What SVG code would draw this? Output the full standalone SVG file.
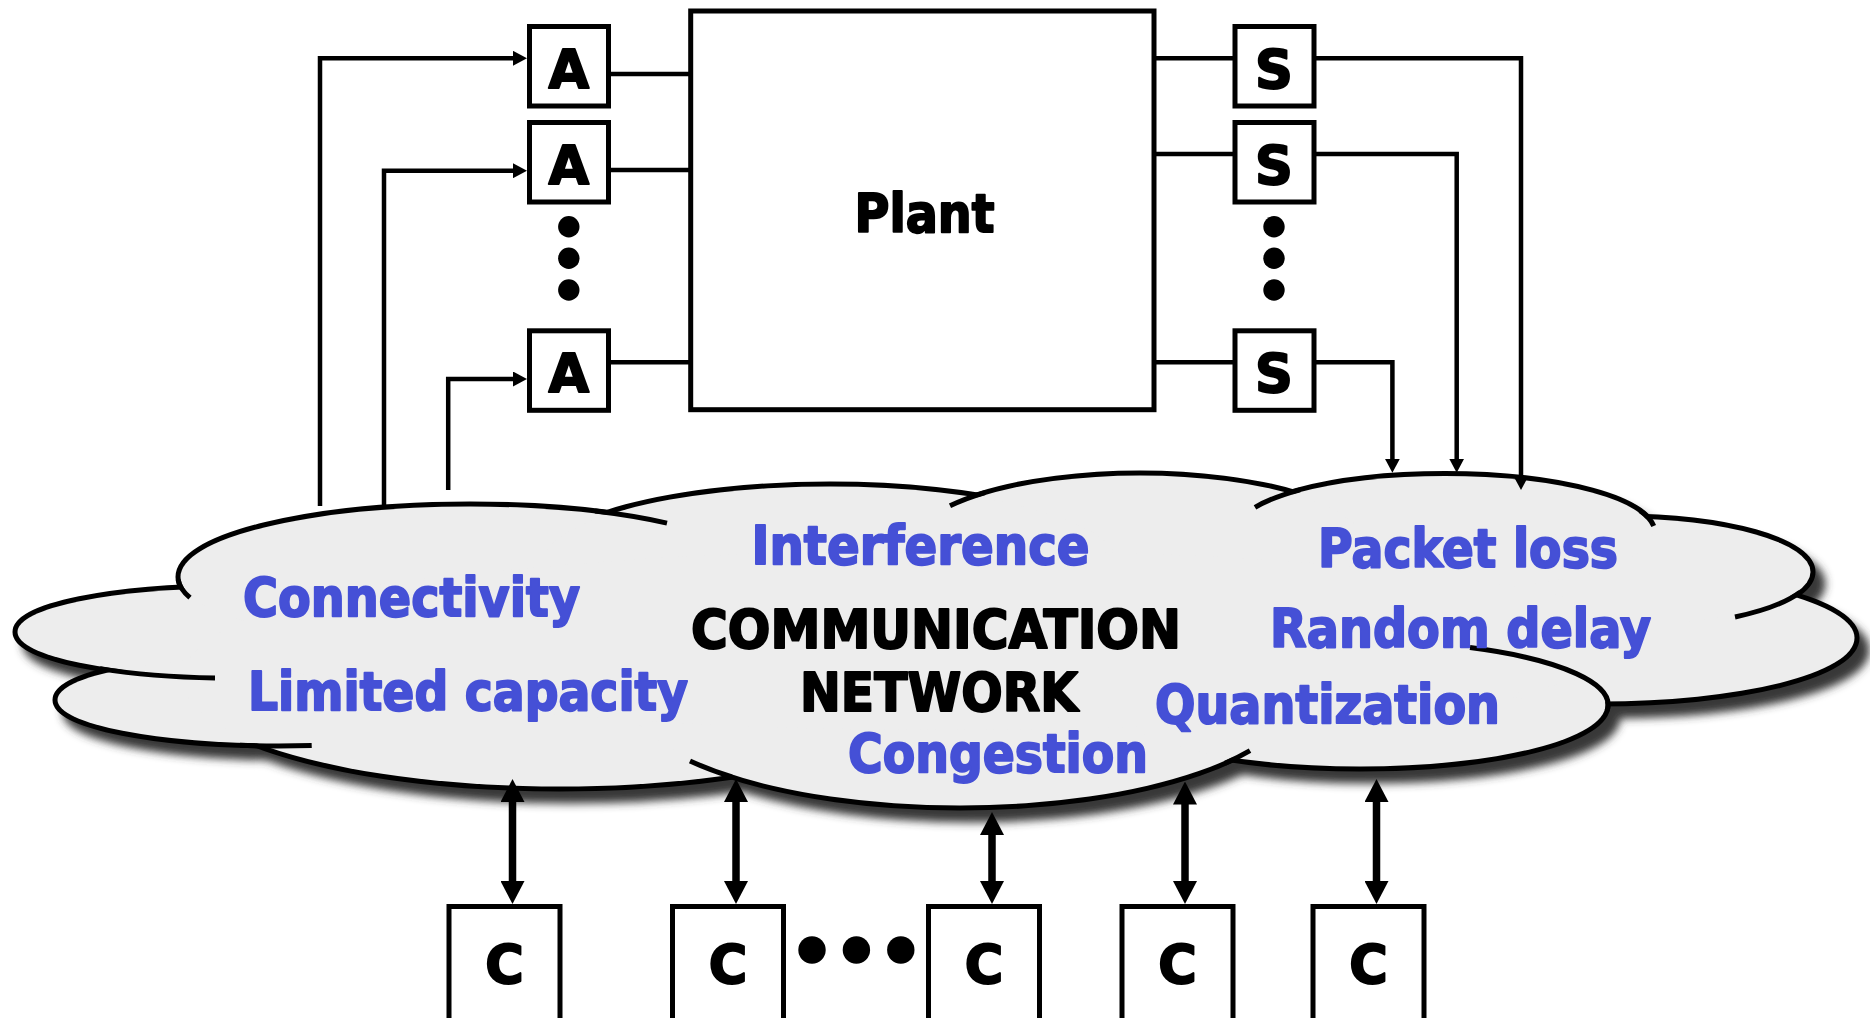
<svg xmlns="http://www.w3.org/2000/svg" width="1870" height="1018" viewBox="0 0 1870 1018">
  <style>
    .box { fill: #fff; stroke: #000; stroke-width: 5; }
    .lbl { font-family: "DejaVu Sans", "Liberation Sans", sans-serif; font-weight: bold; font-size: 52.5px; fill: #000; stroke: #000; stroke-width: 2; stroke-linejoin: round; }
    .mid { text-anchor: middle; }
    .issue { fill: #4550d6; stroke: #4550d6; }
    .wire { fill: none; stroke: #000; stroke-width: 4.5; }
    .wire-in { marker-end: url(#tip); }
    .duplex { fill: none; stroke: #000; stroke-width: 7.5; marker-start: url(#tip-bold); marker-end: url(#tip-bold); }
    .hook { fill: none; stroke: #000; stroke-width: 5; }
    .dot { fill: #000; }
  </style>
  <defs>
    <marker id="tip" markerUnits="userSpaceOnUse" markerWidth="14" markerHeight="15" refX="8" refY="7.5" orient="auto">
      <path d="M0,0 L14,7.5 L0,15 z" fill="#000"/>
    </marker>
    <marker id="tip-bold" markerUnits="userSpaceOnUse" markerWidth="23" markerHeight="24" refX="13" refY="12" orient="auto-start-reverse">
      <path d="M0,0 L23,12 L0,24 z" fill="#000"/>
    </marker>
    <filter id="soft" x="-10%" y="-30%" width="120%" height="160%">
      <feGaussianBlur stdDeviation="4"/>
    </filter>
    <!-- cloud lobes, radii pulled in by half the outline width -->
    <g id="lobes">
      <ellipse cx="230" cy="632" rx="212.5" ry="43.5"/>
      <ellipse cx="470" cy="577" rx="289.5" ry="70.5"/>
      <ellipse cx="280" cy="700" rx="222.5" ry="43.5"/>
      <ellipse cx="560" cy="679" rx="377.5" ry="107.5"/>
      <ellipse cx="960" cy="688" rx="337.5" ry="117.5"/>
      <ellipse cx="1360" cy="705" rx="245.5" ry="61.5"/>
      <ellipse cx="1600" cy="638" rx="254.5" ry="63.5"/>
      <ellipse cx="1620" cy="572" rx="190.5" ry="53.5"/>
      <ellipse cx="1445" cy="532.5" rx="207.5" ry="56.5"/>
      <ellipse cx="1140" cy="548" rx="227.5" ry="72.5"/>
      <ellipse cx="830" cy="564" rx="287.5" ry="77.5"/>
    </g>
  </defs>

  <!-- communication network cloud -->
  <g id="network">
    <use href="#lobes" fill="#383838" stroke="#383838" stroke-width="10" transform="translate(10,12)" filter="url(#soft)"/>
    <use href="#lobes" fill="none" stroke="#000" stroke-width="10"/>
    <use href="#lobes" fill="#ededed" stroke="none"/>
    <ellipse cx="950" cy="640" rx="700" ry="90" fill="#ededed"/>
    <path class="hook" d="M178.2,579.5 A292,73 0 0 0 190,597.7"/>
    <path class="hook" d="M100,668.6 A215,46 0 0 0 215,677.9"/>
    <path class="hook" d="M240,745.3 A225,46 0 0 0 311.7,745.5"/>
    <path class="hook" d="M690,761 A340,120 0 0 0 732,777"/>
    <path class="hook" d="M1225,763.2 A340,120 0 0 0 1250,750.6"/>
    <path class="hook" d="M1470,647.6 A248,64 0 0 1 1607.1,710.6"/>
    <path class="hook" d="M1800,592.2 A193,56 0 0 1 1735,617"/>
    <path class="hook" d="M1640,510.6 A210,59 0 0 1 1653.7,526"/>
    <path class="hook" d="M1255,507.4 A210,59 0 0 1 1300,489.8"/>
    <path class="hook" d="M950,505.8 A230,75 0 0 1 985,492.6"/>
    <path class="hook" d="M595,511 A292,73 0 0 1 667,523.1"/>

    <text class="lbl" x="691" y="648" textLength="490" lengthAdjust="spacingAndGlyphs">COMMUNICATION</text>
    <text class="lbl" x="800" y="711" textLength="278" lengthAdjust="spacingAndGlyphs">NETWORK</text>

    <text class="lbl issue" x="243" y="616" textLength="337" lengthAdjust="spacingAndGlyphs">Connectivity</text>
    <text class="lbl issue" x="248" y="710" textLength="440" lengthAdjust="spacingAndGlyphs">Limited capacity</text>
    <text class="lbl issue" x="751.5" y="564" textLength="338" lengthAdjust="spacingAndGlyphs">Interference</text>
    <text class="lbl issue" x="848" y="772" textLength="300" lengthAdjust="spacingAndGlyphs">Congestion</text>
    <text class="lbl issue" x="1318" y="567" textLength="300" lengthAdjust="spacingAndGlyphs">Packet loss</text>
    <text class="lbl issue" x="1270" y="647" textLength="381" lengthAdjust="spacingAndGlyphs">Random delay</text>
    <text class="lbl issue" x="1155" y="723" textLength="345" lengthAdjust="spacingAndGlyphs">Quantization</text>
  </g>

  <!-- plant -->
  <g id="plant">
    <rect class="box" x="690.7" y="11" width="463.3" height="398.7"/>
    <text class="lbl" x="854.5" y="232" textLength="140" lengthAdjust="spacingAndGlyphs">Plant</text>
  </g>

  <!-- actuators -->
  <g id="actuator-1">
    <rect class="box" x="529.5" y="26.5" width="79" height="79.5"/>
    <text class="lbl mid" x="568.8" y="87.7">A</text>
  </g>
  <g id="actuator-2">
    <rect class="box" x="529.5" y="122.5" width="79" height="79.5"/>
    <text class="lbl mid" x="568.8" y="183.7">A</text>
  </g>
  <g id="actuator-dots">
    <circle class="dot" cx="568.8" cy="226.7" r="10.7"/>
    <circle class="dot" cx="568.8" cy="258.3" r="10.7"/>
    <circle class="dot" cx="568.8" cy="290" r="10.7"/>
  </g>
  <g id="actuator-n">
    <rect class="box" x="529.5" y="330.8" width="79" height="79.5"/>
    <text class="lbl mid" x="568.8" y="391.8">A</text>
  </g>

  <!-- sensors -->
  <g id="sensor-1">
    <rect class="box" x="1235" y="26.5" width="79" height="79.5"/>
    <text class="lbl mid" x="1274" y="87.7">S</text>
  </g>
  <g id="sensor-2">
    <rect class="box" x="1235" y="122.5" width="79" height="79.5"/>
    <text class="lbl mid" x="1274" y="183.7">S</text>
  </g>
  <g id="sensor-dots">
    <circle class="dot" cx="1274" cy="226.7" r="10.7"/>
    <circle class="dot" cx="1274" cy="258.3" r="10.7"/>
    <circle class="dot" cx="1274" cy="290" r="10.7"/>
  </g>
  <g id="sensor-n">
    <rect class="box" x="1235" y="330.8" width="79" height="79.5"/>
    <text class="lbl mid" x="1274" y="391.8">S</text>
  </g>

  <!-- controllers -->
  <g id="controller-1">
    <rect class="box" x="449" y="906.5" width="111" height="130"/>
    <text class="lbl mid" x="504.5" y="983">C</text>
  </g>
  <g id="controller-2">
    <rect class="box" x="672.5" y="906.5" width="111" height="130"/>
    <text class="lbl mid" x="728" y="983">C</text>
  </g>
  <g id="controller-dots">
    <circle class="dot" cx="812" cy="950" r="13.7"/>
    <circle class="dot" cx="856.4" cy="950" r="13.7"/>
    <circle class="dot" cx="900.8" cy="950" r="13.7"/>
  </g>
  <g id="controller-3">
    <rect class="box" x="928.5" y="906.5" width="111" height="130"/>
    <text class="lbl mid" x="984" y="983">C</text>
  </g>
  <g id="controller-4">
    <rect class="box" x="1122" y="906.5" width="111" height="130"/>
    <text class="lbl mid" x="1177.5" y="983">C</text>
  </g>
  <g id="controller-5">
    <rect class="box" x="1313" y="906.5" width="111" height="130"/>
    <text class="lbl mid" x="1368.5" y="983">C</text>
  </g>

  <!-- connectors -->
  <g id="connectors">
    <!-- network to actuators -->
    <path class="wire wire-in" d="M320,506 V58.3 H521"/>
    <path class="wire wire-in" d="M384,506 V170.7 H521"/>
    <path class="wire wire-in" d="M448.2,490 V379 H521"/>
    <!-- actuators to plant -->
    <path class="wire" d="M610,74 H690"/>
    <path class="wire" d="M610,170 H690"/>
    <path class="wire" d="M610,362.3 H690"/>
    <!-- plant to sensors -->
    <path class="wire" d="M1155,58.3 H1235"/>
    <path class="wire" d="M1155,154 H1235"/>
    <path class="wire" d="M1155,362.3 H1235"/>
    <!-- sensors to network -->
    <path class="wire wire-in" d="M1315,58.3 H1521 V484"/>
    <path class="wire wire-in" d="M1315,154 H1456.7 V466.7"/>
    <path class="wire wire-in" d="M1315,362.3 H1392.4 V466.7"/>
    <!-- controllers to and from network -->
    <path class="duplex" d="M512.5,789 V894"/>
    <path class="duplex" d="M736,789 V894"/>
    <path class="duplex" d="M992,822 V894"/>
    <path class="duplex" d="M1185,791.5 V894"/>
    <path class="duplex" d="M1376.5,789 V894"/>
  </g>
</svg>
